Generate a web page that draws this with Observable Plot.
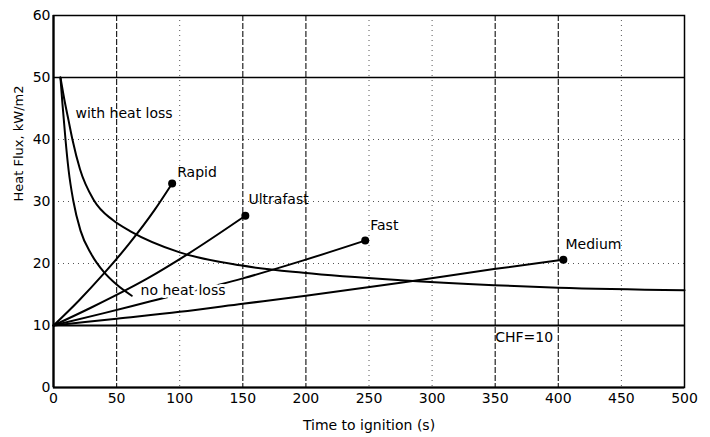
<!DOCTYPE html>
<html>
<head>
<meta charset="utf-8">
<script src="https://cdn.jsdelivr.net/npm/d3@7"></script>
<script src="https://cdn.jsdelivr.net/npm/@observablehq/plot@0.6"></script>
<style>
  body { margin: 0; background: #fff; }
  #chart svg { font-family: "DejaVu Sans", sans-serif; }
</style>
</head>
<body>
<div id="chart"></div>
<script>
// Critical heat flux vs. time to ignition, [time (s), heat flux (kW/m2)]
const withHeatLoss = [[5.5,50],[9,46],[12,43],[15,40],[21,35.2],[32,30.2],[47,27],[61,25.2],[100,21.8],[148,19.7],[198,18.5],[275,17.3],[349,16.5],[400,16.1],[500,15.7]];
const noHeatLoss = [[5.5,50],[7,46],[9.5,40],[12,35],[15.6,30.2],[21.4,25.3],[30,21.5],[40,18.6],[50,16.6],[62,14.8]];

// t-squared fire growth curves, ending at the ignition point
const rapid = [[0,10],[20,14],[40,18.4],[60,23.2],[80,28.6],[94,32.9]];
const ultrafast = [[0,10],[30,12.9],[61,16.1],[74.5,17.6],[107,21.6],[152,27.7]];
const fast = [[0,10],[40,12],[77,13.9],[150,17.6],[198,20.5],[247,23.7]];
const medium = [[0,10],[50,11.1],[100,12.2],[150,13.5],[200,14.8],[275,16.9],[349,19.1],[404,20.6]];
const endPoints = [rapid, ultrafast, fast, medium].map(s => s[s.length - 1]);

const chf = [10];

// Annotations, in data units
const labelText = ["with heat loss", "Rapid", "Ultrafast", "Fast", "Medium", "CHF=10"];
const labelT = [17.4, 98, 154.5, 251, 405.7, 350];
const labelFlux = [44.2, 34.7, 30.3, 26.1, 23.1, 8.1];
const curveLabel = {text: "no heat loss", t: 69, flux: 15.6};

const xTicks = [0, 50, 100, 150, 200, 250, 300, 350, 400, 450, 500];
const yTicks = [0, 10, 20, 30, 40, 50, 60];
const dashedGridX = [50, 150, 200, 350, 400];
const dottedGridX = [100, 250, 300, 450];
const dottedGridY = [20, 30, 40];
const solidGridY = [50];

const labels = labelText.map((text, i) => ({text, t: labelT[i], flux: labelFlux[i]}));
const line = (data) => Plot.line(data, {x: d => d[0], y: d => d[1], curve: "monotone-x", stroke: "black", strokeWidth: 2});

const chart = Plot.plot({
  width: 710,
  height: 437,
  marginLeft: 53,
  marginRight: 26,
  marginTop: 15,
  marginBottom: 50,
  style: {fontFamily: "DejaVu Sans, sans-serif", fontSize: "14px", background: "white", color: "black"},
  x: {domain: [0, 500]},
  y: {domain: [0, 60]},
  marks: [
    // grid
    Plot.ruleX(dottedGridX, {stroke: "#555", strokeWidth: 1, strokeDasharray: "1,4"}),
    Plot.ruleY(dottedGridY, {stroke: "#555", strokeWidth: 1, strokeDasharray: "1,4"}),
    Plot.ruleX(dashedGridX, {stroke: "#222", strokeWidth: 1.2, strokeDasharray: "6,2"}),
    Plot.ruleY(solidGridY, {stroke: "black", strokeWidth: 1.5}),
    // axes
    Plot.axisX(xTicks, {tickSize: 0, tickPadding: 6, fontSize: 14, label: null}),
    Plot.axisY(yTicks, {tickSize: 0, tickPadding: 3, fontSize: 14, label: null}),
    Plot.text(["Time to ignition (s)"], {frameAnchor: "bottom", lineAnchor: "middle", dy: 38, fontSize: 14}),
    Plot.text(["Heat Flux, kW/m2"], {frameAnchor: "left", rotate: -90, dx: -35, fontSize: 13}),
    Plot.frame({stroke: "black", strokeWidth: 1.5}),
    Plot.ruleX([0], {stroke: "black", strokeWidth: 2.2}),
    Plot.ruleY([0], {stroke: "black", strokeWidth: 2.2}),
    // critical heat flux
    Plot.ruleY(chf, {stroke: "black", strokeWidth: 2.2}),
    // curves
    line(withHeatLoss),
    line(noHeatLoss),
    line(rapid),
    line(ultrafast),
    line(fast),
    line(medium),
    Plot.dot(endPoints, {x: d => d[0], y: d => d[1], r: 4, fill: "black"}),
    Plot.text(labels, {x: "t", y: "flux", text: "text", textAnchor: "start", fontSize: 14}),
    Plot.text([curveLabel], {x: "t", y: "flux", text: "text", textAnchor: "start", fontSize: 14, stroke: "white", strokeWidth: 6, fill: "black"})
  ]
});

document.getElementById("chart").appendChild(chart);
</script>
</body>
</html>
